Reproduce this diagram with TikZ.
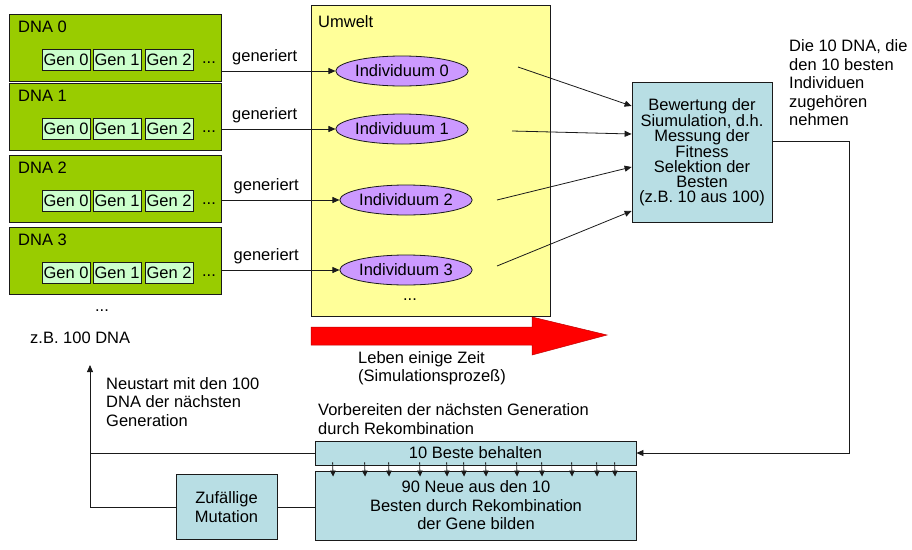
\documentclass[tikz,border=0pt]{standalone}
\usepackage{fontspec}
\setmainfont{Liberation Sans}
\usepackage{tikz}
\usetikzlibrary{arrows.meta,positioning,shapes.geometric,calc}
\definecolor{ink}{HTML}{1A1A1A}
\definecolor{dnagreen}{HTML}{99CC00}
\definecolor{genlight}{HTML}{CCFFCC}
\definecolor{envyellow}{HTML}{FFFF99}
\definecolor{indviolet}{HTML}{CC99FF}
\definecolor{evalblue}{HTML}{B8DEE4}
\definecolor{timered}{HTML}{FF0000}

\begin{document}
\begin{tikzpicture}[x=1pt,y=-1pt,font=\fontsize{16.5}{18.5}\selectfont,
  every node/.style={inner sep=0pt},
  conn/.style={draw=ink,line width=0.8pt,-{Triangle[length=7pt,width=6pt]}},
  plain/.style={draw=ink,line width=0.8pt},
  dnabox/.style={draw=ink,line width=0.8pt,fill=dnagreen,minimum width=212pt,minimum height=67pt},
  genbox/.style={draw=ink,line width=0.6pt,fill=genlight,minimum width=48pt,minimum height=21pt},
  indiv/.style={ellipse,draw=ink,line width=0.8pt,fill=indviolet,minimum width=118pt,minimum height=30pt},
  evalbox/.style={draw=ink,line width=0.8pt,fill=evalblue,align=center}]
\useasboundingbox (0,0) rectangle (912,549);

% Umwelt
\node[draw=ink,line width=0.8pt,fill=envyellow,minimum width=239pt,minimum height=311pt] (umw) at (430.5,161) {};
\node[anchor=west] (umwlabel) at (318,22) {Umwelt};
\node (umwdots) at (410,300) {...};

% DNA and individuals
\foreach \i/\t/\iy/\ix in {0/14/71/402, 1/83/129/402, 2/155/200/406, 3/227/270/406} {
  \node[dnabox] (dna\i) at (115,\t+33.5) {};
  \node[anchor=west] (dnalabel\i) at (18,\t+13) {DNA \i};
  \node[genbox] (gen\i a) at (66,\t+46) {Gen 0};
  \node[genbox] (gen\i b) at (117,\t+46) {Gen 1};
  \node[genbox] (gen\i c) at (169,\t+46) {Gen 2};
  \node (gendots\i) at (209,\t+49) {...};
  \node[indiv] (ind\i) at (\ix,\iy) {Individuum \i};
  \draw[conn] (dna\i.east |- ind\i.west) -- node[above=6pt,pos=0.38]{generiert} (ind\i.west);
}
\node (dnadots) at (102,311) {...};
\node[anchor=west] (dnacount) at (30,338) {z.B. 100 DNA};

% Bewertung
\node[evalbox,minimum width=140pt,minimum height=140pt,
  font=\fontsize{16.5}{14.8}\selectfont] (bew) at (702,152)
  {Bewertung der\\Siumulation, d.h.\\Messung der\\Fitness\\Selektion der\\Besten\\(z.B. 10 aus 100)};
\coordinate (s0) at (518,67);
\coordinate (s1) at (512,131);
\coordinate (s2) at (497,200);
\coordinate (s3) at (497,266);
\draw[conn] (s0) -- ([yshift=46pt]bew.west);
\draw[conn] (s1) -- ([yshift=18pt]bew.west);
\draw[conn] (s2) -- ([yshift=-15pt]bew.west);
\draw[conn] (s3) -- ([yshift=-59pt]bew.west);
\node[anchor=west,align=left] (bestnote) at (789,83)
  {Die 10 DNA, die\\den 10 besten\\Individuen\\zugehören\\nehmen};

% time arrow
\fill[timered,draw=timered!75!black,line width=0.5pt]
  (311,327) -- (532,327) -- (532,317) -- (607,335) -- (532,355) -- (532,345) -- (311,345) -- cycle;
\node[anchor=west,align=left] (timelabel) at (358,368) {Leben einige Zeit\\(Simulationsprozeß)};

% next generation
\node[anchor=west,align=left] (preplabel) at (318,419)
  {Vorbereiten der nächsten Generation\\durch Rekombination};
\node[evalbox,minimum width=321pt,minimum height=24pt] (beste) at (475.5,453) {10 Beste behalten};
\node[evalbox,minimum width=321pt,minimum height=69pt] (neue) at (476,505.5)
  {90 Neue aus den 10\\Besten durch Rekombination\\der Gene bilden};
\foreach \x in {18,50,74,105,132,149,171,202,227,257,282,300}
  \draw[conn,-{Triangle[length=6pt,width=5.5pt]}] ([xshift=\x pt,yshift=3pt]beste.south west) -- ([xshift=\x pt,yshift=-6pt]neue.north west);
\coordinate (turn) at (849,141);
\draw[conn] (bew.east |- turn) -- (turn) |- (beste.east);

\node[evalbox,minimum width=101pt,minimum height=65pt] (mut) at (226.5,507) {Zufällige\\Mutation};
\draw[plain] (mut.east) -- (mut.east -| neue.west);
\coordinate (restart) at (90,365);
\draw[conn] (mut.west) -| (restart);
\draw[plain] (beste.west) -- (beste.west -| restart);
\node[anchor=west,align=left] (restartlabel) at (106,402)
  {Neustart mit den 100\\DNA der nächsten\\Generation};
\end{tikzpicture}
\end{document}
